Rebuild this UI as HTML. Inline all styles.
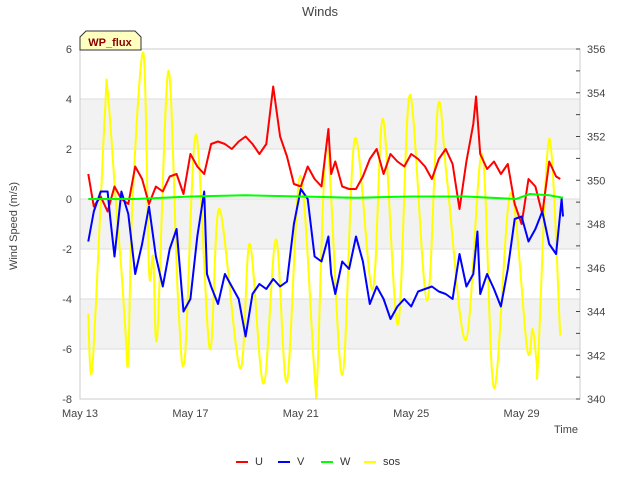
<!DOCTYPE html>
<html><head><meta charset="utf-8"><style>
body{margin:0;background:#fff;font-family:"Liberation Sans","DejaVu Sans",sans-serif}
</style></head><body>
<svg id="chart" width="640" height="480" xmlns="http://www.w3.org/2000/svg" font-family="Liberation Sans, DejaVu Sans, sans-serif">
<text x="320" y="16" text-anchor="middle" font-size="13" fill="#444">Winds</text>
<g id="bands"></g><g id="grid"></g>
<g id="series" clip-path="url(#clip)"></g>
<defs><clipPath id="clip"><rect x="80" y="49" width="500" height="350"/></clipPath></defs>
<rect x="80" y="49" width="500" height="350" fill="none" stroke="#ccc"/>
<g id="axes" font-size="11" fill="#444"></g>
<text transform="translate(17,226) rotate(-90)" text-anchor="middle" font-size="11" fill="#444">Wind Speed (m/s)</text>
<text x="578" y="433" text-anchor="end" font-size="11" fill="#444">Time</text>
<g>
<path d="M80,50 L80,37 L86,31 L135,31 L141,37 L141,50 Z" fill="#ffffc0" stroke="#333"/>
<text x="110" y="46" text-anchor="middle" font-size="11" font-weight="bold" fill="#8b0000">WP_flux</text></g>
<g id="legend" font-size="11" fill="#333"></g>
</svg>
<script>
const xTicks=[0,4,8,12,16];
const xTickLabels=["May 13","May 17","May 21","May 25","May 29"];
const yTicks=[-8,-6,-4,-2,0,2,4,6];
const y2Ticks=[340,342,344,346,348,350,352,354,356];
const uT=[0.3,0.5,0.75,1,1.25,1.5,1.75,2,2.25,2.5,2.75,3,3.25,3.5,3.75,4,4.25,4.5,4.75,5,5.25,5.5,5.75,6,6.25,6.5,6.75,7,7.25,7.5,7.75,8,8.25,8.5,8.75,9,9.1,9.25,9.5,9.75,10,10.25,10.5,10.75,11,11.25,11.5,11.75,12,12.25,12.5,12.75,13,13.25,13.5,13.75,14,14.25,14.35,14.5,14.75,15,15.25,15.5,15.75,16,16.25,16.5,16.75,17,17.25,17.4];
const uV=[1.0,-0.3,0.1,-0.5,0.5,0.0,-0.2,1.3,0.8,-0.2,0.5,0.3,0.9,1.0,0.2,1.8,1.3,1.0,2.2,2.3,2.2,2.0,2.3,2.5,2.2,1.8,2.2,4.5,2.5,1.7,0.6,0.5,1.3,0.8,0.5,2.8,1.0,1.5,0.5,0.4,0.4,0.9,1.6,2.0,1.0,1.8,1.5,1.3,1.8,1.6,1.3,0.8,1.6,2.0,1.4,-0.4,1.5,3.0,4.1,1.8,1.2,1.5,1.0,1.4,-0.2,-1.0,0.8,0.5,-0.6,1.5,0.9,0.8];
const vT=[0.3,0.5,0.75,1,1.1,1.25,1.5,1.75,2,2.25,2.5,2.75,3,3.25,3.5,3.75,4,4.25,4.5,4.6,4.75,5,5.25,5.5,5.75,6,6.25,6.5,6.75,7,7.25,7.5,7.75,8,8.25,8.5,8.75,9,9.1,9.25,9.5,9.75,10,10.25,10.5,10.75,11,11.25,11.5,11.75,12,12.25,12.5,12.75,13,13.25,13.5,13.75,14,14.25,14.4,14.5,14.75,15,15.25,15.5,15.75,16,16.25,16.5,16.75,17,17.25,17.45,17.5];
const vV=[-1.7,-0.5,0.3,0.3,-0.8,-2.3,0.3,-0.6,-3.0,-1.8,-0.3,-2.3,-3.5,-2.0,-1.2,-4.5,-4.0,-1.5,0.3,-3.0,-3.5,-4.2,-3.0,-3.5,-4.0,-5.5,-3.8,-3.4,-3.6,-3.2,-3.5,-3.3,-1.0,0.4,0.0,-2.3,-2.5,-1.5,-3.0,-3.8,-2.5,-2.8,-1.5,-2.5,-4.2,-3.5,-4.0,-4.8,-4.3,-4.0,-4.3,-3.7,-3.6,-3.5,-3.7,-3.8,-4.0,-2.2,-3.5,-3.0,-1.3,-3.8,-3.0,-3.6,-4.3,-2.8,-0.8,-0.7,-1.7,-1.2,-0.5,-1.8,-2.2,0.0,-0.7];
const wT=[0.3,2,4,6,8,10,12,14,15.8,16.3,17,17.5];
const wV=[0.0,0.0,0.1,0.15,0.1,0.05,0.1,0.1,0.0,0.2,0.15,0.05];
const sT=[0.3,0.45,0.9,1.0,1.3,1.5,1.65,1.75,1.9,2.3,2.5,2.65,2.8,3.2,3.55,3.8,4.2,4.7,5.05,5.8,6.15,6.65,7.1,7.5,7.98,8.5,8.6,8.95,9.5,9.96,10.6,10.98,11.52,11.95,12.57,12.97,13.3,13.98,14.57,15.0,15.6,16.2,16.4,16.55,16.6,17.0,17.4];
const sV=[343.9,341.5,353.0,354.1,349.0,345.9,343.0,341.8,349.0,355.8,345.9,346.5,342.9,355.0,344.6,341.9,352.1,342.3,348.7,341.4,347.1,340.7,347.3,340.8,350.2,341.1,341.1,351.4,341.1,351.9,345.0,352.8,343.4,353.9,344.5,353.4,350.0,342.7,351.2,340.5,349.4,342.3,343.2,341.6,341.8,351.9,342.9];
const NS="http://www.w3.org/2000/svg";
const X=d=>80+d*27.6, Y=v=>199-v*25, Y2=s=>399-(s-340)*21.875;
function mk(t,a,p){const e=document.createElementNS(NS,t);for(const k in a)e.setAttribute(k,a[k]);(p||document.getElementById('chart')).appendChild(e);return e;}
const bands=document.getElementById('bands'),grid=document.getElementById('grid'),axes=document.getElementById('axes'),ser=document.getElementById('series'),leg=document.getElementById('legend');
[[4,2],[0,-2],[-4,-6]].forEach(b=>{const r=mk('rect',{x:80,y:Y(b[0]),width:500,height:Y(b[1])-Y(b[0]),fill:'#f2f2f2'},bands);

});
yTicks.forEach(v=>{const l=mk('line',{x1:80,x2:580,y1:Y(v),y2:Y(v),stroke:'#ddd'},grid);


const t=mk('text',{x:72,y:Y(v)+4,'text-anchor':'end'},axes);t.textContent=v;

});
y2Ticks.forEach(v=>{const t=mk('text',{x:587,y:Y2(v)+4},axes);t.textContent=v;


mk('line',{x1:580,x2:576,y1:Y2(v),y2:Y2(v),stroke:'#444'},axes);
if(v<356)mk('line',{x1:580,x2:576,y1:Y2(v+1),y2:Y2(v+1),stroke:'#444'},axes);});
xTicks.forEach((d,i)=>{const t=mk('text',{x:X(d),y:417,'text-anchor':'middle'},axes);t.textContent=xTickLabels[i];

});
function line(T,V,f,c,name){const p=mk('polyline',{points:T.map((t,i)=>X(t)+','+f(V[i])).join(' '),fill:'none',stroke:c,'stroke-width':2,'stroke-linejoin':'round'},ser);

}
function smooth(T,V,f,c,name){const P=T.map((t,i)=>[X(t),f(V[i])]);let d='M'+P[0][0]+','+P[0][1];
for(let i=0;i<P.length-1;i++){const p0=P[Math.max(0,i-1)],p1=P[i],p2=P[i+1],p3=P[Math.min(P.length-1,i+2)];
const c1=[p1[0]+(p2[0]-p0[0])/6,p1[1]+(p2[1]-p0[1])/6],c2=[p2[0]-(p3[0]-p1[0])/6,p2[1]-(p3[1]-p1[1])/6];
d+=' C'+c1+' '+c2+' '+p2;}
const p=mk('path',{d:d,fill:'none',stroke:c,'stroke-width':2},ser);

}
smooth(sT,sV,Y2,'#ffff00','sos-line');
line(uT,uV,Y,'#ff0000','u-line');
line(vT,vV,Y,'#0000ff','v-line');
line(wT,wV,Y,'#00ff00','w-line');
[['U','#ff0000',236],['V','#0000ff',278],['W','#00ff00',321],['sos','#ffff00',364]].forEach(e=>{
const g=mk('g',{},leg);


mk('line',{x1:e[2],x2:e[2]+12,y1:462,y2:462,stroke:e[1],'stroke-width':2},g);
const t=mk('text',{x:e[2]+19,y:465},g);t.textContent=e[0];});
</script>
</body></html>
